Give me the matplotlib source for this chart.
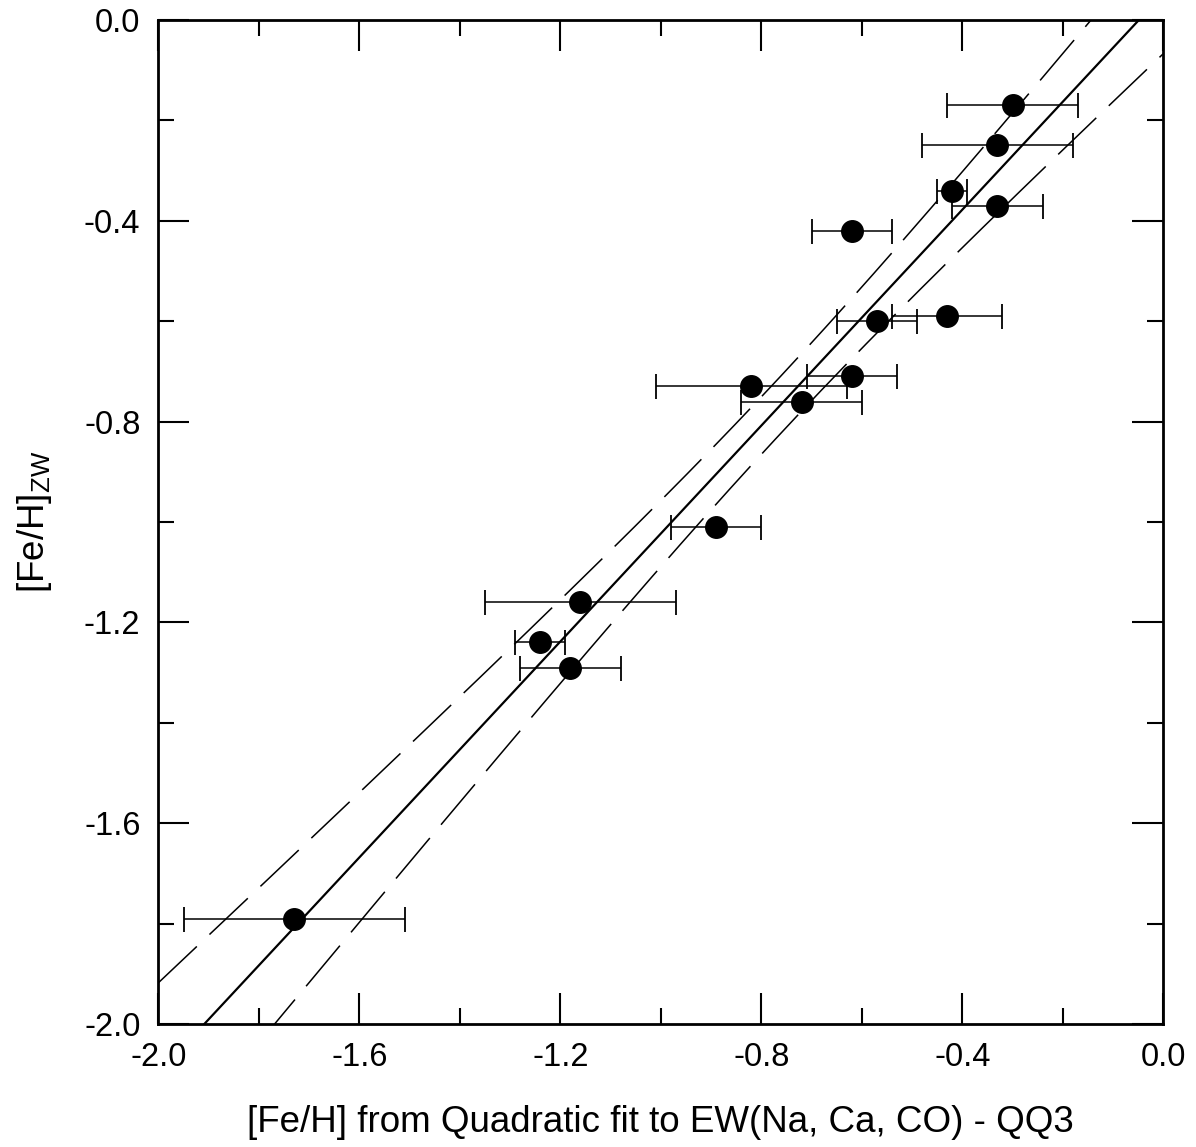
import numpy as np
import matplotlib
matplotlib.use("Agg")
import matplotlib.pyplot as plt
from matplotlib.ticker import MultipleLocator

# ---- data ----
feh_qq3 = [-0.30, -0.33, -0.42, -0.33, -0.62, -0.57, -0.43, -0.82, -0.62,
           -0.72, -0.89, -1.16, -1.24, -1.18, -1.73]
feh_zw = [-0.17, -0.25, -0.34, -0.37, -0.42, -0.60, -0.59, -0.73, -0.71,
          -0.76, -1.01, -1.16, -1.24, -1.29, -1.79]
feh_qq3_err = [0.13, 0.15, 0.03, 0.09, 0.08, 0.08, 0.11, 0.19, 0.09,
               0.12, 0.09, 0.19, 0.05, 0.10, 0.22]

# linear fit and its confidence band
fit_slope = 1.075
fit_intercept = 0.052
band_xmean = -0.76
band_w0 = 0.057
band_k = 0.138

x_ticks = [-2.0, -1.6, -1.2, -0.8, -0.4, 0.0]
y_ticks = [-2.0, -1.6, -1.2, -0.8, -0.4, 0.0]

plt.rcParams['font.family'] = ['Liberation Sans', 'DejaVu Sans']
plt.rcParams['mathtext.fontset'] = 'custom'
plt.rcParams['mathtext.rm'] = 'Liberation Sans'
plt.rcParams['mathtext.it'] = 'Liberation Sans'

fig = plt.figure(figsize=(11.96, 11.47), dpi=100)
ax = fig.add_axes([0.1325, 0.1072, 0.8401, 0.8754])

xx = np.linspace(-2.0, 0.0, 400)
yfit = fit_intercept + fit_slope * xx
wband = np.sqrt(band_w0**2 + band_k**2 * (xx - band_xmean)**2)

ax.plot(xx, yfit, color='black', lw=1.6, zorder=2)
lw_d = 1.1
ax.plot(xx, yfit + wband, color='black', lw=lw_d,
        ls=(0, (38 / lw_d, 12.5 / lw_d)), zorder=2)
ax.plot(xx, yfit - wband, color='black', lw=lw_d,
        ls=(0, (38 / lw_d, 12.5 / lw_d)), zorder=2)

ax.errorbar(feh_qq3, feh_zw, xerr=feh_qq3_err, fmt='none', ecolor='black',
            elinewidth=1.1, capsize=9, capthick=1.3, zorder=3)
ax.plot(feh_qq3, feh_zw, 'o', color='black', ms=15.5, zorder=4)

ax.set_xlim(-2.0, 0.0)
ax.set_ylim(-2.0, 0.0)
ax.set_xticks(x_ticks)
ax.set_yticks(y_ticks)
ax.set_xticklabels([f"{v:.1f}" for v in x_ticks])
ax.set_yticklabels([f"{v:.1f}" for v in y_ticks])
ax.xaxis.set_minor_locator(MultipleLocator(0.2))
ax.yaxis.set_minor_locator(MultipleLocator(0.2))
ax.tick_params(which='both', direction='in', top=True, right=True, width=1.5,
               labelsize=23.5, pad=13)
ax.tick_params(which='major', length=22)
ax.tick_params(which='minor', length=11.5)
for s in ax.spines.values():
    s.set_linewidth(2.0)

ax.set_xlabel("[Fe/H] from Quadratic fit to EW(Na, Ca, CO) - QQ3", fontsize=26.5)
ax.set_ylabel(r"[Fe/H]$_{\mathregular{ZW}}$", fontsize=26.5)
ax.xaxis.set_label_coords(0.5, -0.0976)
ax.yaxis.set_label_coords(-0.123, 0.5)
ax.xaxis.label.set_va('center')
ax.yaxis.label.set_va('center')

fig.savefig("out.png", dpi=100)
